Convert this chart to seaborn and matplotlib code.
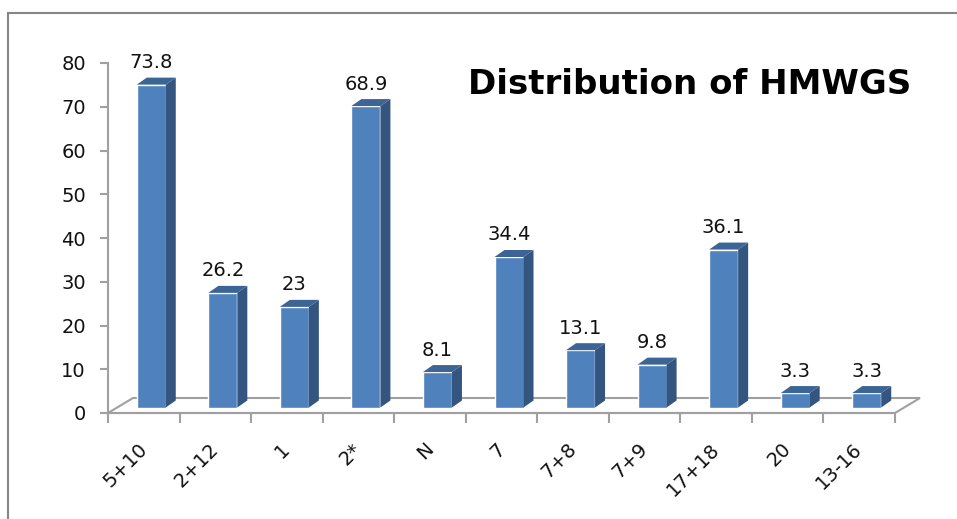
import matplotlib.pyplot as plt
from matplotlib.patches import Polygon, Rectangle
from matplotlib.transforms import ScaledTranslation
import seaborn as sns

# ── Data ──────────────────────────────────────────────────────────────────────
categories = ["5+10", "2+12", "1", "2*", "N", "7", "7+8", "7+9", "17+18", "20", "13-16"]
frequency = [73.8, 26.2, 23, 68.9, 8.1, 34.4, 13.1, 9.8, 36.1, 3.3, 3.3]
value_labels = ["73.8", "26.2", "23", "68.9", "8.1", "34.4", "13.1", "9.8", "36.1", "3.3", "3.3"]
y_ticks = [0, 10, 20, 30, 40, 50, 60, 70, 80]
title = "Distribution of HMWGS"

# ── Style ─────────────────────────────────────────────────────────────────────
W, H = 957, 519
FRONT = "#4F81BD"
SIDE = "#33557F"
TOP = "#3C6596"
GRID = "#A0A0A0"
TXT = "#111111"

sns.set_theme(style="white")
plt.rcParams["font.family"] = ["DejaVu Sans"]

fig = plt.figure(figsize=(W / 100, H / 100), dpi=100)
# axes box in pixels: x 108..895, y 63..413 (from top)
ax_l, ax_r, ax_t, ax_b = 108, 895, 63, 413
ax = fig.add_axes([ax_l / W, 1 - ax_b / H, (ax_r - ax_l) / W, (ax_b - ax_t) / H])

n = len(categories)
px_x = (ax_r - ax_l) / n          # pixels per category
px_y = (ax_b - ax_t) / 80.0       # pixels per y unit

sns.barplot(x=categories, y=frequency, color=FRONT, saturation=1,
            width=29 / px_x, ax=ax, zorder=3)
ax.set_xlim(-0.5, n - 0.5)
ax.set_ylim(0, 80)

# shift bars slightly to sit on the 3D floor, and add side/top faces
shift_x, shift_y = 7.5 / px_x, 5.5 / px_y
dx, dy = 10 / px_x, 7 / px_y
for bar in ax.patches:
    bar.set_x(bar.get_x() + shift_x)
    bar.set_y(bar.get_y() + shift_y)
    bar.set_clip_on(False)
    x0, y0 = bar.get_x(), bar.get_y()
    x1, y1 = x0 + bar.get_width(), y0 + bar.get_height()
    side = Polygon([(x1, y0), (x1 + dx, y0 + dy), (x1 + dx, y1 + dy), (x1, y1)],
                   closed=True, facecolor=SIDE, edgecolor="none", zorder=3, clip_on=False)
    top = Polygon([(x0, y1), (x0 + dx, y1 + dy), (x1 + dx, y1 + dy), (x1, y1)],
                  closed=True, facecolor=TOP, edgecolor="none", zorder=3, clip_on=False)
    ax.add_patch(side)
    ax.add_patch(top)

ax.bar_label(ax.containers[0], labels=value_labels, padding=9,
             fontsize=14, color=TXT)

# 3D floor
fx, fy = 25 / px_x, 15 / px_y
floor = Polygon([(-0.5, 0), (-0.5 + fx, fy), (n - 0.5 + fx, fy), (n - 0.5, 0)],
                closed=True, facecolor="white", edgecolor=GRID, lw=1.5,
                zorder=1, clip_on=False)
ax.add_patch(floor)

# axes styling
for s in ["top", "right"]:
    ax.spines[s].set_visible(False)
for s in ["left", "bottom"]:
    ax.spines[s].set_color(GRID)
    ax.spines[s].set_linewidth(1.5)

ax.set_yticks(y_ticks)
ax.tick_params(axis="y", left=True, length=6, width=1.5, color=GRID,
               labelsize=14, labelcolor=TXT, pad=10)
ax.set_xticks(range(n))
ax.set_xticklabels(categories, rotation=45, ha="right", rotation_mode="default")
ax.tick_params(axis="x", which="major", length=0, labelsize=14,
               labelcolor=TXT, pad=19)
label_shift = ScaledTranslation(7 / 100, 0, fig.dpi_scale_trans)
for lbl in ax.get_xticklabels():
    lbl.set_transform(lbl.get_transform() + label_shift)
ax.set_xticks([i - 0.5 for i in range(n + 1)], minor=True)
ax.tick_params(axis="x", which="minor", bottom=True, length=7, width=1.5, color=GRID)
ax.set_xlabel("")
ax.set_ylabel("")

# title
fig.text(911 / W, 1 - 84 / H, title, ha="right", va="center", color="black",
         fontsize=24.5, fontweight="bold", family=["DejaVu Sans"])

# outer chart border
fig.add_artist(Rectangle((8 / W, -0.5), 2, (H - 13) / H + 0.5,
                         transform=fig.transFigure, fill=False,
                         edgecolor="#868686", lw=1.5))

fig.savefig("out.png", dpi=100)
